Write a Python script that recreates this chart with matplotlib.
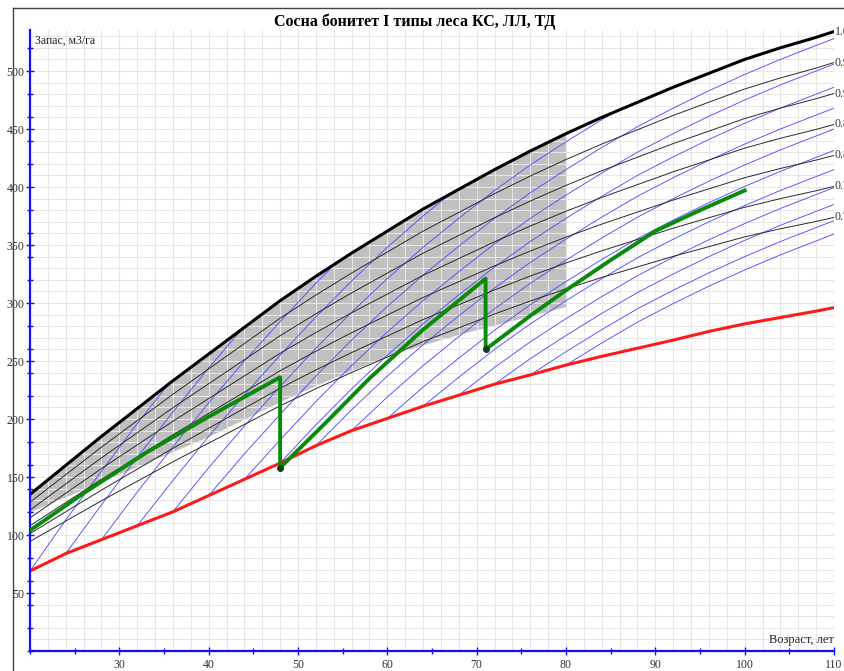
import numpy as np
import matplotlib
matplotlib.use('Agg')
import matplotlib.pyplot as plt
from matplotlib.patches import Polygon
from matplotlib.lines import Line2D
from matplotlib.ticker import MultipleLocator

# --- Data ---
AGES = [20, 24, 28, 32, 36, 40, 44, 48, 52, 56, 60, 64, 68, 72, 76, 80,
        84, 88, 92, 96, 100, 104, 108, 110]
# full stocking (1.0) yield curve, m3/ha
FULL_STOCK = [135, 160, 185, 209, 233, 256, 279, 302, 323, 343, 362, 381, 398, 415, 431, 446,
              460, 473, 486, 498, 510, 520, 529, 534]
# lower (red) boundary
RED_LINE = [69, 84, 96, 108, 120, 134, 148, 162, 177, 190, 200.5, 211, 220.5, 230, 238, 246.5,
            254, 261, 268, 275.5, 282, 287.5, 293, 296]
# shape of the blue growth lines (first line, unclipped)
GROWTH_SHAPE = [69, 113, 155, 196, 235, 273, 309, 343, 376, 407, 436, 463, 488, 512, 534, 554,
                573, 591, 607, 622, 636, 649, 661, 667]
GROWTH_START_AGES = [20, 24, 28, 32, 36, 40, 44, 48, 52, 56, 60, 64, 68, 72, 76, 80]

STOCKING = [0.95, 0.9, 0.85, 0.8, 0.75, 0.7]
STOCK_LABELS = ['1.0', '0.95', '0.9', '0.85', '0.8', '0.75', '0.7']

# gray zone (ages 20..80): lower edge
GRAY_LOW = [120, 133, 146, 159, 172, 185, 200, 215, 229, 242, 254, 264, 273, 281, 289, 297]

# stand path (green)
GREEN_AGE = [20, 26, 33, 40, 48, 48, 53, 58, 64, 71, 71, 76, 80, 85, 90, 95, 100]
GREEN_VOL = [104, 136, 171, 202, 236, 158, 196, 235, 277, 321, 260, 289, 311, 337, 362, 380, 397]
THIN_AGE = [48, 71]
THIN_VOL = [158, 260]

ages = np.array(AGES, dtype=float)
full = np.array(FULL_STOCK, dtype=float)
red = np.array(RED_LINE, dtype=float)
shape = np.array(GROWTH_SHAPE, dtype=float)

SERIF = 'Liberation Serif'

fig = plt.figure(figsize=(8.44, 6.71), dpi=100)
ax = fig.add_axes([30 / 844, 20 / 671, 804 / 844, 621 / 671])
ax.set_xlim(20, 110)
ax.set_ylim(0, 621 / 1.16)

# gray zone
n_gray = len(GRAY_LOW)
ax.fill_between(ages[:n_gray], GRAY_LOW, full[:n_gray], color='#c0c0c0', lw=0, zorder=0.2)

# grid
ax.xaxis.set_minor_locator(MultipleLocator(5))
ax.xaxis.set_major_locator(MultipleLocator(10))
ax.yaxis.set_major_locator(MultipleLocator(50))
ax.yaxis.set_minor_locator(MultipleLocator(20))
for gx in np.arange(22, 110, 2):
    ax.axvline(gx, color='#e6e6e6', lw=0.75, zorder=0.5)
for gy in np.arange(10, 540, 10):
    ax.axhline(gy, color='#e6e6e6', lw=0.75, zorder=0.5)

# clip region: below the full stocking line
clip_verts = list(zip(ages, full)) + [(110, 0), (20, 0)]
clip_poly = Polygon(clip_verts, closed=True, transform=ax.transData)

# blue growth lines
for a0 in GROWTH_START_AGES:
    i0 = AGES.index(a0)
    yy = shape[i0:] - shape[i0] + red[i0]
    ln, = ax.plot(ages[i0:], yy, color='#5050ff', lw=0.65, zorder=1)
    ln.set_clip_path(clip_poly)

# relative stocking lines
for s in STOCKING:
    ax.plot(ages, full * s, color='#2a2a2a', lw=0.7, zorder=1.2)

ax.plot(ages, red, color='#ff1a1a', lw=2.2, zorder=2)
ax.plot(ages, full, color='black', lw=2.2, zorder=2.2)

ax.plot(GREEN_AGE, GREEN_VOL, color='#0a8a0a', lw=2.8, zorder=3)
ax.plot(THIN_AGE, THIN_VOL, 'o', color='#104010', ms=4, zorder=3.5)

# stocking labels at right end (cut by the picture edge as in the source)
for lab, s in zip(STOCK_LABELS, [1.0] + STOCKING):
    ax.text(110.1, full[-1] * s, lab, fontsize=8.5, family=SERIF, color='#333333',
            ha='left', va='center', clip_on=False)

# axes style
for sp in ['top', 'right']:
    ax.spines[sp].set_visible(False)
for sp in ['left', 'bottom']:
    ax.spines[sp].set_color('#1010ff')
    ax.spines[sp].set_linewidth(1.6)
ax.tick_params(which='both', direction='inout', color='#1010ff', width=1,
               labelsize=8.5, labelcolor='#333333')
ax.tick_params(which='major', length=6)
ax.tick_params(which='minor', length=5)
ax.set_xticks([30, 40, 50, 60, 70, 80, 90, 100, 110])
ax.set_yticks([50, 100, 150, 200, 250, 300, 350, 400, 450, 500])
for lbl in ax.get_xticklabels() + ax.get_yticklabels():
    lbl.set_family(SERIF)
ax.tick_params(axis='y', pad=1)
ax.tick_params(axis='x', pad=3)

ax.text(0.006, 0.982, 'Запас, м3/га', transform=ax.transAxes, fontsize=8.5,
        family=SERIF, ha='left', va='center', color='#222222')
ax.text(1.0, 11 / 621, 'Возраст, лет', transform=ax.transAxes, fontsize=9,
        family=SERIF, ha='right', va='center', color='#222222')

fig.text(415 / 844, 1 - 22 / 671, 'Сосна бонитет I типы леса КС, ЛЛ, ТД', fontsize=11.5,
         family=SERIF, weight='bold', ha='center', va='center')

# outer frame
fig.add_artist(Line2D([13 / 844, 1.0], [1 - 8 / 671, 1 - 8 / 671], color='#444444', lw=1))
fig.add_artist(Line2D([13 / 844, 13 / 844], [0, 1 - 8 / 671], color='#444444', lw=1))

fig.savefig('out.png', dpi=100)
